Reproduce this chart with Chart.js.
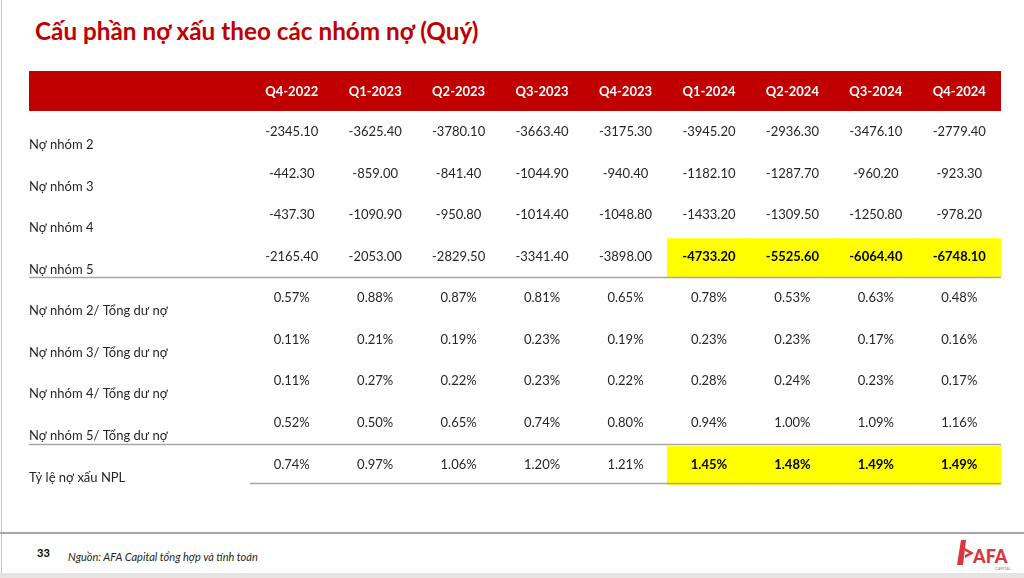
<!DOCTYPE html>
<html>
<head>
<meta charset="utf-8">
<script src="https://cdn.jsdelivr.net/npm/chart.js@4"></script>
<style>
  html, body { margin: 0; padding: 0; background: #fff; }
  body { width: 1024px; height: 578px; position: relative; overflow: hidden; font-family: Lato, sans-serif; }
  #frameLeft { position: absolute; left: 1px; top: 0; width: 1px; height: 578px; background: #c8c8c8; }
  #frameBottom { position: absolute; left: 0; top: 573px; width: 1024px; height: 5px; background: #e6e4e2; }
  #title { position: absolute; left: 35px; top: 16px; font-size: 24.3px; font-weight: bold; color: #c00000; white-space: nowrap; }
  #box { position: absolute; left: 29px; top: 71px; width: 972px; height: 422px; }
  #footLine { position: absolute; left: 0; top: 532px; width: 1024px; height: 2px; background: #a6a6a6; }
  #page { position: absolute; left: 37px; top: 546px; font-size: 11px; font-weight: bold; color: #000; }
  #source { position: absolute; left: 68px; top: 550px; font-size: 11px; font-style: italic; color: #262626; white-space: nowrap; }
  #logo { position: absolute; left: 952px; top: 538px; }
</style>
</head>
<body>
<div id="frameLeft"></div>
<div id="title">Cấu phần nợ xấu theo các nhóm nợ (Quý)</div>
<div id="box"><canvas id="tableChart"></canvas></div>
<div id="footLine"></div>
<div id="page">33</div>
<div id="source">Nguồn: AFA Capital tổng hợp và tính toán</div>
<svg id="logo" width="62" height="34" viewBox="0 0 62 34">
  <polygon points="9,2 14,2 11,27 5,27" fill="#d9363e"/>
  <polygon points="13,10 22,15 13,20 13,17 17,15 13,13" fill="#d9363e"/>
  <text x="21" y="25" font-family="Lato" font-weight="900" font-size="18" fill="#d9363e">AFA</text>
  <text x="43" y="32" font-family="Lato" font-size="4" fill="#888">CAPITAL</text>
</svg>
<div id="frameBottom"></div>
<script>
const quarters = ["Q4-2022", "Q1-2023", "Q2-2023", "Q3-2023", "Q4-2023", "Q1-2024", "Q2-2024", "Q3-2024", "Q4-2024"];
const rowLabels = [
  "Nợ nhóm 2",
  "Nợ nhóm 3",
  "Nợ nhóm 4",
  "Nợ nhóm 5",
  "Nợ nhóm 2/ Tổng dư nợ",
  "Nợ nhóm 3/ Tổng dư nợ",
  "Nợ nhóm 4/ Tổng dư nợ",
  "Nợ nhóm 5/ Tổng dư nợ",
  "Tỷ lệ nợ xấu NPL"
];

const no2 = [-2345.10, -3625.40, -3780.10, -3663.40, -3175.30, -3945.20, -2936.30, -3476.10, -2779.40];
const no3 = [-442.30, -859.00, -841.40, -1044.90, -940.40, -1182.10, -1287.70, -960.20, -923.30];
const no4 = [-437.30, -1090.90, -950.80, -1014.40, -1048.80, -1433.20, -1309.50, -1250.80, -978.20];
const no5 = [-2165.40, -2053.00, -2829.50, -3341.40, -3898.00, -4733.20, -5525.60, -6064.40, -6748.10];
const ratio2 = [0.57, 0.88, 0.87, 0.81, 0.65, 0.78, 0.53, 0.63, 0.48];
const ratio3 = [0.11, 0.21, 0.19, 0.23, 0.19, 0.23, 0.23, 0.17, 0.16];
const ratio4 = [0.11, 0.27, 0.22, 0.23, 0.22, 0.28, 0.24, 0.23, 0.17];
const ratio5 = [0.52, 0.50, 0.65, 0.74, 0.80, 0.94, 1.00, 1.09, 1.16];
const npl = [0.74, 0.97, 1.06, 1.20, 1.21, 1.45, 1.48, 1.49, 1.49];

// highlighted (yellow, bold) cells
const hotQuarters = ["Q1-2024", "Q2-2024", "Q3-2024", "Q4-2024"];
const hotRows = ["Nợ nhóm 5", "Tỷ lệ nợ xấu NPL"];

const rows = [no2, no3, no4, no5, ratio2, ratio3, ratio4, ratio5, npl];
const isPercent = [false, false, false, false, true, true, true, true, true];

const textColor = "#262626";
const lineColor = "#a6a6a6";

// one invisible point series per row, the plugin writes the value at each point
const textSets = rows.map((vals, r) => ({
  type: "line",
  label: rowLabels[r],
  data: quarters.map((q) => ({ x: q, y: r })),
  cellValues: vals,
  percent: isPercent[r],
  showLine: false,
  pointRadius: 0,
  order: 0
}));

// yellow cells as floating bars covering the row band
const hotSets = hotRows.map((name) => {
  const r = rowLabels.indexOf(name);
  return {
    type: "bar",
    label: "hl " + name,
    data: quarters.map((q) => (hotQuarters.includes(q) ? [r - 0.43, r + 0.5] : null)),
    backgroundColor: "#ffff00",
    barPercentage: 1,
    categoryPercentage: 1,
    grouped: false,
    order: 1
  };
});

const cellText = {
  id: "cellText",
  beforeDraw(chart) {
    const { ctx, scales } = chart;
    const xs = scales.x;
    ctx.save();
    ctx.fillStyle = "#c00000";
    ctx.fillRect(0, xs.top, chart.width, xs.bottom - xs.top);
    ctx.restore();
  },
  afterDatasetsDraw(chart) {
    const { ctx, scales, chartArea } = chart;
    const ys = scales.y;
    ctx.save();
    // separator lines
    ctx.strokeStyle = lineColor;
    ctx.lineWidth = 1.5;
    [[3.5, 0], [7.5, 0], [8.45, chartArea.left]].forEach(([v, x0]) => {
      const y = Math.round(ys.getPixelForValue(v)) + 0.5;
      ctx.beginPath();
      ctx.moveTo(x0, y);
      ctx.lineTo(chartArea.right, y);
      ctx.stroke();
    });
    ctx.textAlign = "center";
    ctx.textBaseline = "middle";
    chart.data.datasets.forEach((ds, d) => {
      if (!ds.cellValues) return;
      const meta = chart.getDatasetMeta(d);
      const hotRow = hotRows.includes(ds.label);
      meta.data.forEach((pt, i) => {
        const v = ds.cellValues[i];
        const bold = hotRow && hotQuarters.includes(quarters[i]);
        ctx.font = (bold ? "bold " : "") + "13px Lato";
        ctx.fillStyle = bold ? "#000" : textColor;
        ctx.fillText(v.toFixed(2) + (ds.percent ? "%" : ""), pt.x, pt.y);
      });
    });
    ctx.restore();
  }
};

Chart.defaults.font.family = "Lato";

new Chart(document.getElementById("tableChart"), {
  type: "bar",
  data: {
    labels: quarters,
    datasets: [...textSets, ...hotSets]
  },
  options: {
    responsive: true,
    maintainAspectRatio: false,
    animation: false,
    layout: { padding: 0 },
    plugins: {
      legend: { display: false },
      tooltip: { enabled: false },
      title: { display: false }
    },
    scales: {
      x: {
        type: "category",
        position: "top",
        offset: true,
        grid: { display: false },
        border: { display: false },
        ticks: {
          color: "#ffffff",
          font: { size: 13, weight: "bold" },
          padding: 3,
          maxRotation: 0
        },
        afterFit(scale) {
          scale.height = 40;
        }
      },
      y: {
        type: "linear",
        reverse: true,
        min: -0.5,
        max: 8.5,
        grid: { display: false },
        border: { display: false },
        afterBuildTicks(scale) {
          scale.ticks = rowLabels.map((_, i) => ({ value: i }));
        },
        ticks: {
          color: textColor,
          font: { size: 13 },
          crossAlign: "far",
          padding: 0,
          labelOffset: 13,
          callback: (v) => rowLabels[v]
        },
        afterFit(scale) {
          scale.width = 221;
        }
      }
    }
  },
  plugins: [cellText]
});
</script>
</body>
</html>
